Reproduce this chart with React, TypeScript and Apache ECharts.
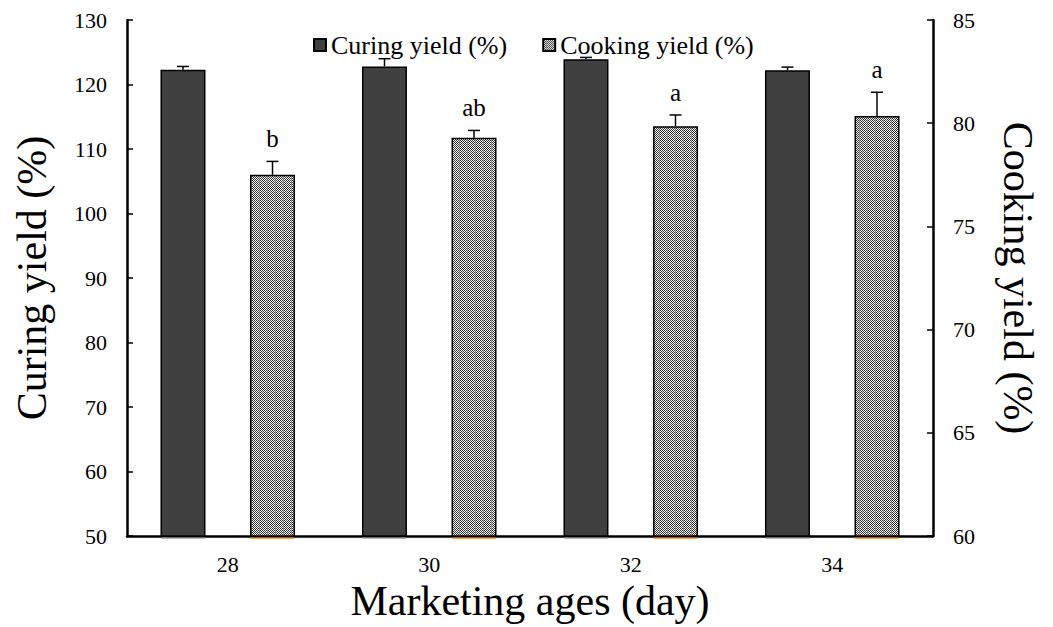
import React, { useEffect, useRef } from "react";
import * as echarts from "echarts";

const categories = ["28", "30", "32", "34"];
const curingValues = [122.3, 122.8, 123.9, 122.2];
const curingErrors = [0.5, 1.2, 0.3, 0.5];
const cookingValues = [77.5, 79.3, 79.85, 80.35];
const cookingErrors = [0.65, 0.35, 0.55, 1.15];
const cookingLetters = ["b", "ab", "a", "a"];
const leftTicks = { min: 50, max: 130, interval: 10 };
const rightTicks = { min: 60, max: 85, interval: 5 };

const FONT = "Liberation Serif";
const BAR_OFFSET = 44.75;

function makeChecker(): string {
  const c = document.createElement("canvas");
  c.width = 8;
  c.height = 8;
  const ctx = c.getContext("2d")!;
  ctx.fillStyle = "#ffffff";
  ctx.fillRect(0, 0, 8, 8);
  for (let y = 0; y < 8; y++) {
    for (let x = 0; x < 8; x++) {
      if ((x + y) % 2 === 0) {
        ctx.fillStyle = "#2e2e2e";
        ctx.fillRect(x, y, 1, 1);
      }
    }
  }
  ctx.fillStyle = "rgba(140,140,140,0.7)";
  ctx.fillRect(3, 0, 1, 8);
  return c.toDataURL();
}

export default function App() {
  const ref = useRef<HTMLDivElement>(null);
  useEffect(() => {
    if (!ref.current) return;
    const chart = echarts.init(ref.current, null, { renderer: "svg" });
    const pattern: any = {
      image: makeChecker(),
      repeat: "repeat",
      imageWidth: 8,
      imageHeight: 8,
    };

    const errRender = (dir: number, letters: string[] | null, baseColor: string) =>
      (params: any, api: any) => {
        const i = api.value(0);
        const v = api.value(1);
        const e = api.value(2);
        const top = api.coord([i, v + e]);
        const bar = api.coord([i, v]);
        const x = top[0] + dir * BAR_OFFSET;
        const children: any[] = [
          {
            type: "line",
            shape: { x1: x, y1: bar[1], x2: x, y2: top[1] },
            style: { stroke: "#000", lineWidth: 1.5 },
          },
          {
            type: "line",
            shape: { x1: x - 6, y1: top[1], x2: x + 6, y2: top[1] },
            style: { stroke: "#000", lineWidth: 1.5 },
          },
        ];
        const gb = params.coordSys;
        const baseY = gb.y + gb.height + 2;
        children.push({
          type: "line",
          shape: { x1: x - 22, y1: baseY, x2: x + 22, y2: baseY },
          style: { stroke: baseColor, lineWidth: 1.2 },
        });
        if (letters) {
          children.push({
            type: "text",
            x: x,
            y: top[1] - 10,
            style: {
              text: letters[params.dataIndex],
              fontFamily: FONT,
              fontSize: 25,
              fill: "#000",
              align: "center",
              verticalAlign: "bottom",
            },
          });
        }
        return { type: "group", children };
      };

    const tickLabel = { fontFamily: FONT, fontSize: 22, color: "#000" };

    chart.setOption({
      animation: false,
      textStyle: { fontFamily: FONT },
      grid: { left: 127, right: 120, top: 20, bottom: 90, containLabel: false },
      legend: {
        top: 27,
        left: 308,
        icon: "rect",
        itemWidth: 12,
        itemHeight: 12,
        itemGap: 35,
        textStyle: { fontFamily: FONT, fontSize: 26, color: "#000" },
        data: ["Curing yield (%)", "Cooking yield (%)"],
      },
      xAxis: {
        type: "category",
        data: categories,
        boundaryGap: true,
        name: "Marketing ages (day)",
        nameLocation: "middle",
        nameGap: 40,
        nameTextStyle: { fontFamily: FONT, fontSize: 42, color: "#000", verticalAlign: "top" },
        axisLine: { lineStyle: { color: "#000", width: 2.5 } },
        axisTick: { inside: true, length: 6, lineStyle: { color: "#000", width: 1.5 } },
        axisLabel: { ...tickLabel, margin: 17 },
        splitLine: { show: false },
      },
      yAxis: [
        {
          type: "value",
          min: leftTicks.min,
          max: leftTicks.max,
          interval: leftTicks.interval,
          name: "Curing yield (%)",
          nameLocation: "middle",
          nameGap: 74,
          nameTextStyle: { fontFamily: FONT, fontSize: 42, color: "#000" },
          axisLine: { show: true, lineStyle: { color: "#000", width: 2.5 } },
          axisTick: { show: true, inside: true, length: 6, lineStyle: { color: "#000", width: 1.5 } },
          axisLabel: { ...tickLabel, margin: 20 },
          splitLine: { show: false },
        },
        {
          type: "value",
          position: "right",
          min: rightTicks.min,
          max: rightTicks.max,
          interval: rightTicks.interval,
          name: "Cooking yield (%)",
          nameLocation: "middle",
          nameGap: 64,
          nameRotate: -90,
          nameTextStyle: { fontFamily: FONT, fontSize: 42, color: "#000" },
          axisLine: { show: true, lineStyle: { color: "#000", width: 2.5 } },
          axisTick: { show: true, inside: true, length: 6, lineStyle: { color: "#000", width: 1.5 } },
          axisLabel: { ...tickLabel, margin: 20 },
          splitLine: { show: false },
        },
      ],
      series: [
        {
          name: "Curing yield (%)",
          type: "bar",
          yAxisIndex: 0,
          data: curingValues,
          barWidth: 45,
          barGap: "99%",
          itemStyle: { color: "#404040", borderColor: "#000", borderWidth: 1.5 },
        },
        {
          name: "Cooking yield (%)",
          type: "bar",
          yAxisIndex: 1,
          data: cookingValues,
          barWidth: 45,
          barGap: "99%",
          itemStyle: { color: pattern, borderColor: "#000", borderWidth: 1.5 },
        },
        {
          type: "custom",
          yAxisIndex: 0,
          data: curingValues.map((v, i) => [i, v, curingErrors[i]]),
          renderItem: errRender(-1, null, "#a0a0a0"),
          z: 5,
          silent: true,
        },
        {
          type: "custom",
          yAxisIndex: 1,
          data: cookingValues.map((v, i) => [i, v, cookingErrors[i]]),
          renderItem: errRender(1, cookingLetters, "#ff7f00"),
          z: 5,
          silent: true,
        },
      ],
    });
    return () => chart.dispose();
  }, []);
  return (
    <div
      ref={ref}
      style={{ position: "absolute", left: 0, top: 0, width: 1053, height: 627 }}
    />
  );
}
